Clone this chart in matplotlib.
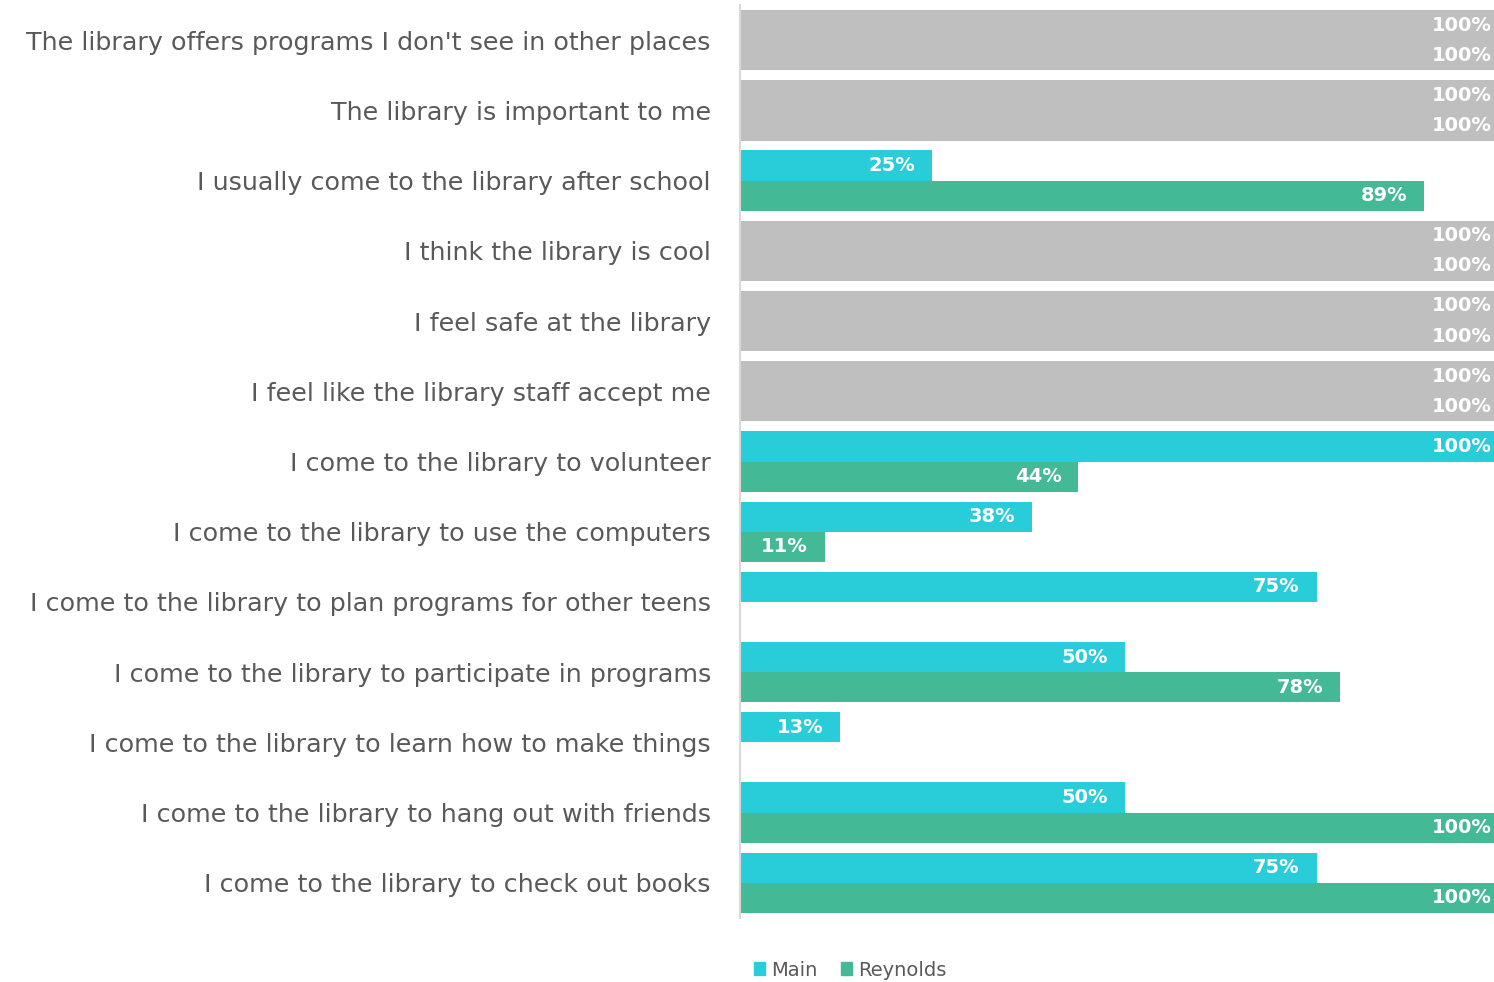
import numpy as np
import matplotlib.pyplot as plt
from matplotlib.patches import Patch

plt.rcParams['font.family'] = ['DejaVu Sans']

statements = [
    "The library offers programs I don't see in other places",
    "The library is important to me",
    "I usually come to the library after school",
    "I think the library is cool",
    "I feel safe at the library",
    "I feel like the library staff accept me",
    "I come to the library to volunteer",
    "I come to the library to use the computers",
    "I come to the library to plan programs for other teens",
    "I come to the library to participate in programs",
    "I come to the library to learn how to make things",
    "I come to the library to hang out with friends",
    "I come to the library to check out books",
]
main = [100, 100, 25, 100, 100, 100, 100, 38, 75, 50, 13, 50, 75]
reynolds = [100, 100, 89, 100, 100, 100, 44, 11, 0, 78, 0, 100, 100]

c_main = '#29CDD9'
c_rey = '#43B996'
c_both = '#BFBFBF'
txt_grey = '#595959'

fig = plt.figure(figsize=(14.94, 9.82), dpi=100)
# right edge sits a little past the canvas, so 100% bars run off the side
ax = fig.add_axes([740 / 1494, 1 - 918 / 982, 769 / 1494, 913 / 982])

y = np.arange(len(statements))
h = 0.43
for i, (m, r) in enumerate(zip(main, reynolds)):
    # rows where both sites agree at 100% are greyed out
    full = m == 100 and r == 100
    cm = c_both if full else c_main
    cr = c_both if full else c_rey
    for val, off, col in ((m, -h / 2, cm), (r, h / 2, cr)):
        if val <= 0:
            continue
        ax.barh(i + off, val, height=h, color=col, edgecolor='none')
        ax.text(val - 2.2, i + off, f"{val}%", ha='right', va='center',
                color='white', fontsize=14, fontweight='bold')

ax.set_xlim(0, 100)
ax.set_ylim(len(statements) - 0.5, -0.5)
ax.set_yticks(y)
ax.set_yticklabels(statements, fontsize=18.3, color=txt_grey)
ax.tick_params(axis='y', length=0, pad=21)
ax.set_xticks([])
for s in ('top', 'right', 'bottom'):
    ax.spines[s].set_visible(False)
ax.spines['left'].set_color('#D9D9D9')
ax.spines['left'].set_linewidth(1.5)

handles = [Patch(color=c_main, label='Main'), Patch(color=c_rey, label='Reynolds')]
fig.legend(handles=handles, loc='center left', bbox_to_anchor=(736 / 1494, 1 - 970 / 982),
           ncol=2, frameon=False, fontsize=14, labelcolor=txt_grey,
           handlelength=0.6, handleheight=0.6, handletextpad=0.3, columnspacing=1.2)

fig.savefig('out.png', dpi=100)
